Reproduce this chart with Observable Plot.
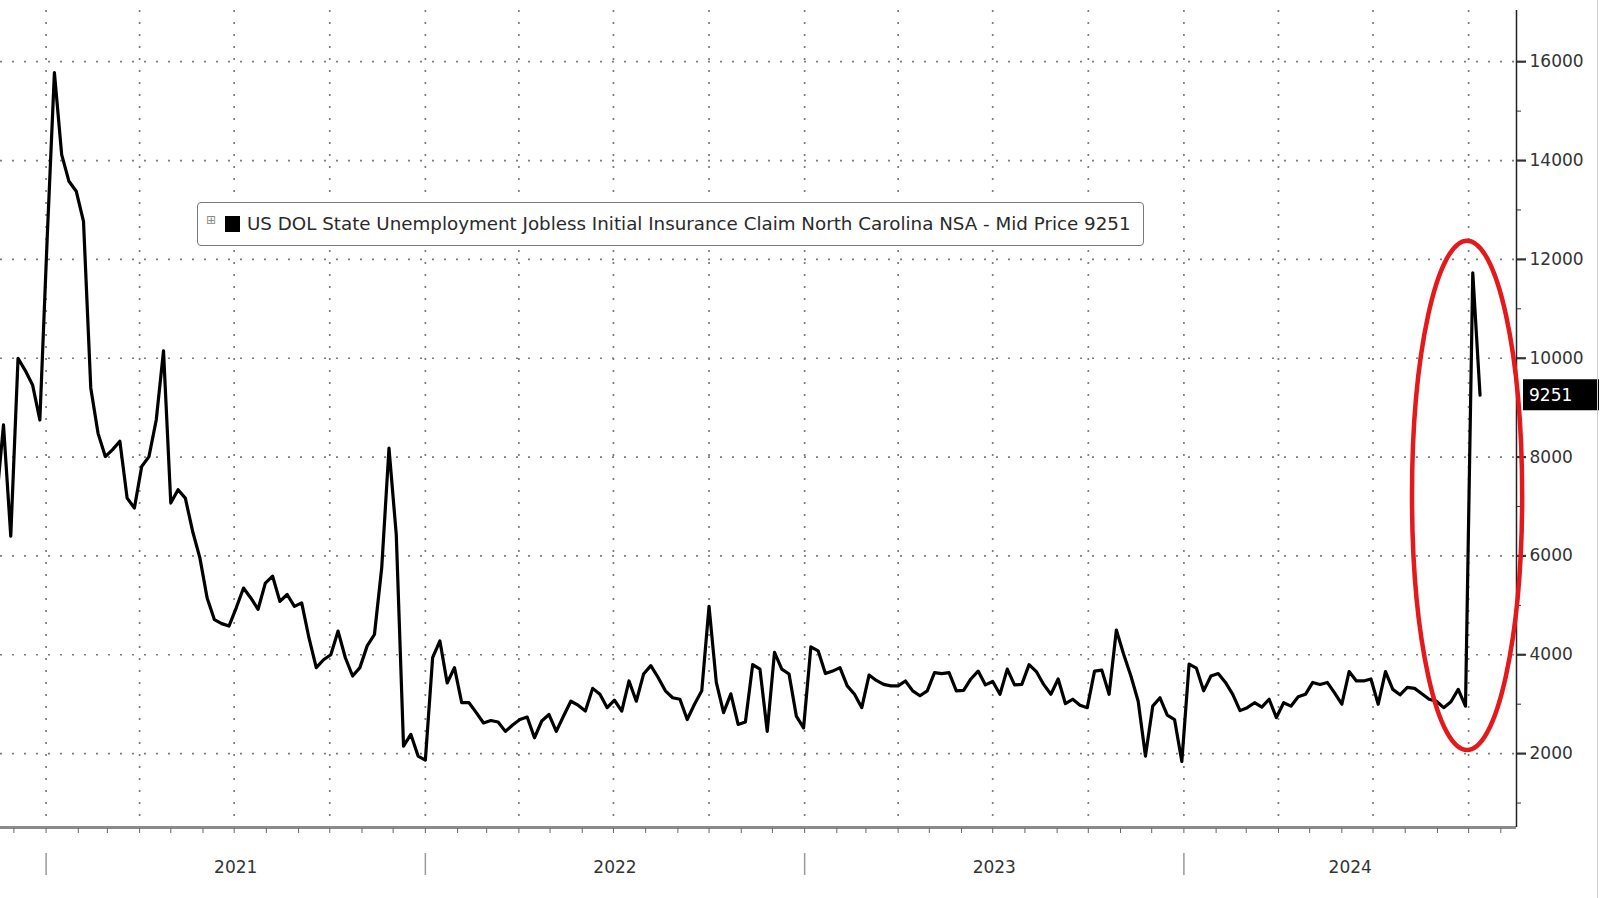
<!DOCTYPE html>
<html>
<head>
<meta charset="utf-8">
<script src="https://cdn.jsdelivr.net/npm/d3@7"></script>
<script src="https://cdn.jsdelivr.net/npm/@observablehq/plot@0.6"></script>
<style>
  body { margin: 0; background: #fff; }
  #wrap { position: relative; width: 1600px; height: 898px; overflow: hidden; font-family: "DejaVu Sans", sans-serif; background: #fff; }
  #legend { position: absolute; left: 197px; top: 202px; width: 945px; height: 42px; border: 1.5px solid #7a7a7a; border-radius: 4px; background: #fff; }
  #legend .icon { position: absolute; left: 8px; top: 11px; font-size: 12px; color: #888; line-height: 12px; }
  #legend .swatch { position: absolute; left: 27px; top: 13px; width: 15px; height: 16px; background: #000; }
  #legend .txt { position: absolute; left: 49px; top: 0; height: 42px; line-height: 42px; color: #2a2a2a; white-space: nowrap; }
  #edge { position: absolute; left: 1597px; top: 0; width: 1px; height: 898px; background: #d0d0d0; }
</style>
</head>
<body>
<div id="wrap">
  <div id="chart"></div>
  <div id="legend"><span class="icon">⊞</span><span class="swatch"></span><span class="txt" id="legendText"></span></div>
  <div id="edge"></div>
</div>
<script>
// ---------------- DATA ----------------
// Weekly initial jobless claims, North Carolina, NSA (weeks ending Saturday, 2020-11-14 .. 2024-10-12)
const firstWeek = "2020-11-14";
const lastWeek = "2024-10-12";
const claims = [
  7050,
  8650, 6400, 10000, 9750, 9460, 8750, 12400, 15780, 14120, 13580,
  13380, 12770, 9400, 8480, 8010, 8150, 8320, 7170, 6970, 7810,
  8010, 8750, 10150, 7070, 7340, 7170, 6500, 5960, 5150, 4710,
  4630, 4580, 4950, 5350, 5150, 4920, 5450, 5590, 5080, 5220,
  4980, 5050, 4340, 3740, 3900, 4000, 4480, 3940, 3570, 3740,
  4180, 4410, 5760, 8180, 6430, 2150, 2390, 1950, 1870, 3940,
  4280, 3430, 3740, 3030, 3030, 2830, 2620, 2670, 2640, 2450,
  2580, 2690, 2740, 2320, 2660, 2790, 2450, 2760, 3060, 2980,
  2860, 3320, 3200, 2930, 3080, 2860, 3470, 3060, 3610, 3780,
  3540, 3270, 3130, 3100, 2690, 3000, 3270, 4980, 3440, 2830,
  3210, 2590, 2640, 3800, 3710, 2450, 4050, 3710, 3610, 2760,
  2520, 4160, 4080, 3620, 3670, 3740, 3370, 3200, 2930, 3590,
  3480, 3400, 3370, 3370, 3470, 3270, 3170, 3270, 3640, 3620,
  3640, 3270, 3280, 3510, 3670, 3390, 3460, 3200, 3710, 3390,
  3400, 3800, 3660, 3400, 3200, 3510, 3010, 3100, 2980, 2930,
  3670, 3690, 3200, 4500, 4010, 3570, 3060, 1950, 2960, 3130,
  2780, 2690, 1840, 3810, 3730, 3270, 3570, 3620, 3440, 3200,
  2870, 2930, 3030, 2940, 3100, 2730, 3030, 2960, 3150, 3200,
  3440, 3400, 3440, 3230, 3000, 3660, 3470, 3470, 3510, 3000,
  3660, 3300, 3190, 3340, 3320, 3210, 3100, 3060, 2930, 3050,
  3300, 2960, 11730, 9251
];
const seriesName = "US DOL State Unemployment Jobless Initial Insurance Claim North Carolina NSA - Mid Price";
const yMajorTicks = [2000, 4000, 6000, 8000, 10000, 12000, 14000, 16000];
const yMinorTicks = [1000, 3000, 5000, 7000, 9000, 11000, 13000, 15000];
const yearLabels = ["2021", "2022", "2023", "2024"];
const xDomain = [new Date("2020-11-18T03:00:00Z"), new Date("2024-11-16T02:00:00Z")];
const yDomain = [505, 17036];
// highlighted region (red oval) in data space
const highlight = { center: new Date("2024-09-30T00:00:00Z"), halfDays: 53, low: 2063, high: 12368 };

// ---------------- BUILD ----------------
const weeks = d3.utcSaturday.range(new Date(firstWeek + "T00:00:00Z"), d3.utcDay.offset(new Date(lastWeek + "T00:00:00Z"), 1));
const n = Math.min(weeks.length, claims.length);
const data = d3.range(n).map(i => ({ date: weeks[i], value: claims[i] }));
const last = data[data.length - 1];

const quarterTicks = d3.utcMonth.every(3).range(xDomain[0], xDomain[1]);
const monthTicks = d3.utcMonth.range(xDomain[0], xDomain[1]);
const yearStarts = yearLabels.map(y => new Date(`${y}-01-01T00:00:00Z`));
const yearMids = yearLabels.map((y, i) => {
  const a = yearStarts[i];
  const b = i < yearLabels.length - 1 ? yearStarts[i + 1] : xDomain[1];
  return { date: new Date((+a + +b) / 2), label: y };
});

const SVGNS = "http://www.w3.org/2000/svg";
function ovalMark(index, scales) {
  const { x, y } = scales;
  const cx = x(highlight.center);
  const rx = x(d3.utcDay.offset(highlight.center, highlight.halfDays)) - cx;
  const yTop = y(highlight.high), yBot = y(highlight.low);
  const e = document.createElementNS(SVGNS, "ellipse");
  e.setAttribute("cx", cx);
  e.setAttribute("cy", (yTop + yBot) / 2);
  e.setAttribute("rx", rx);
  e.setAttribute("ry", (yBot - yTop) / 2);
  e.setAttribute("fill", "none");
  e.setAttribute("stroke", "#e3191b");
  e.setAttribute("stroke-width", 4.5);
  return e;
}
function lastValueMark(index, scales) {
  const { x, y } = scales;
  const g = document.createElementNS(SVGNS, "g");
  const x0 = x(xDomain[1]) + 7;
  const yy = y(last.value);
  const r = document.createElementNS(SVGNS, "rect");
  r.setAttribute("x", x0); r.setAttribute("y", yy - 15.5);
  r.setAttribute("width", 76); r.setAttribute("height", 31);
  r.setAttribute("fill", "#000");
  const t = document.createElementNS(SVGNS, "text");
  t.setAttribute("x", x0 + 6); t.setAttribute("y", yy);
  t.setAttribute("dy", "0.36em");
  t.setAttribute("text-anchor", "start");
  t.setAttribute("fill", "#fff");
  t.setAttribute("font-size", 17);
  t.textContent = String(last.value);
  g.append(r, t);
  return g;
}

const gridStyle = { stroke: "#7d7d7d", strokeOpacity: 1, strokeWidth: 1.7, strokeDasharray: "2 10" };

const chart = Plot.plot({
  width: 1600,
  height: 898,
  marginLeft: 0,
  marginRight: 84,
  marginTop: 10,
  marginBottom: 71,
  x: { type: "utc", domain: xDomain },
  y: { domain: yDomain },
  style: { fontFamily: "DejaVu Sans, sans-serif", fontSize: "17px", color: "#333", background: "#fff", overflow: "visible" },
  marks: [
    Plot.gridY(yMajorTicks, gridStyle),
    Plot.gridX(quarterTicks, gridStyle),
    Plot.ruleY([yDomain[0]], { stroke: "#8a8a8a", strokeWidth: 3 }),
    Plot.ruleX([xDomain[1]], { stroke: "#222", strokeWidth: 1.5 }),
    Plot.axisX(monthTicks, { tickSize: 5, dy: 1, tickFormat: () => "", stroke: "#666", label: null }),
    Plot.axisX(yearStarts, { tickSize: 22, dy: 26, tickFormat: () => "", stroke: "#999", strokeWidth: 1.5, label: null }),
    Plot.text(yearMids, { x: "date", text: "label", frameAnchor: "bottom", dy: 45, fontSize: 17, fill: "#333" }),
    Plot.axisY(yMajorTicks, { anchor: "right", tickSize: 9, strokeWidth: 2.2, tickPadding: 4, tickFormat: d => String(d), fontSize: 17, fill: "#333", label: null }),
    Plot.axisY(yMinorTicks, { anchor: "right", tickSize: 4, tickFormat: () => "", label: null }),
    Plot.line(data, { x: "date", y: "value", stroke: "#000", strokeWidth: 3.2, strokeLinejoin: "round", clip: true }),
    ovalMark,
    lastValueMark
  ]
});
document.getElementById("chart").append(chart);

// legend text, sized to its box
const lt = document.getElementById("legendText");
lt.textContent = `${seriesName} ${last.value}`;
const ctx = document.createElement("canvas").getContext("2d");
ctx.font = '16px "DejaVu Sans"';
const w16 = ctx.measureText(lt.textContent).width;
lt.style.fontSize = (16 * 884 / w16).toFixed(2) + "px";
</script>
</body>
</html>
